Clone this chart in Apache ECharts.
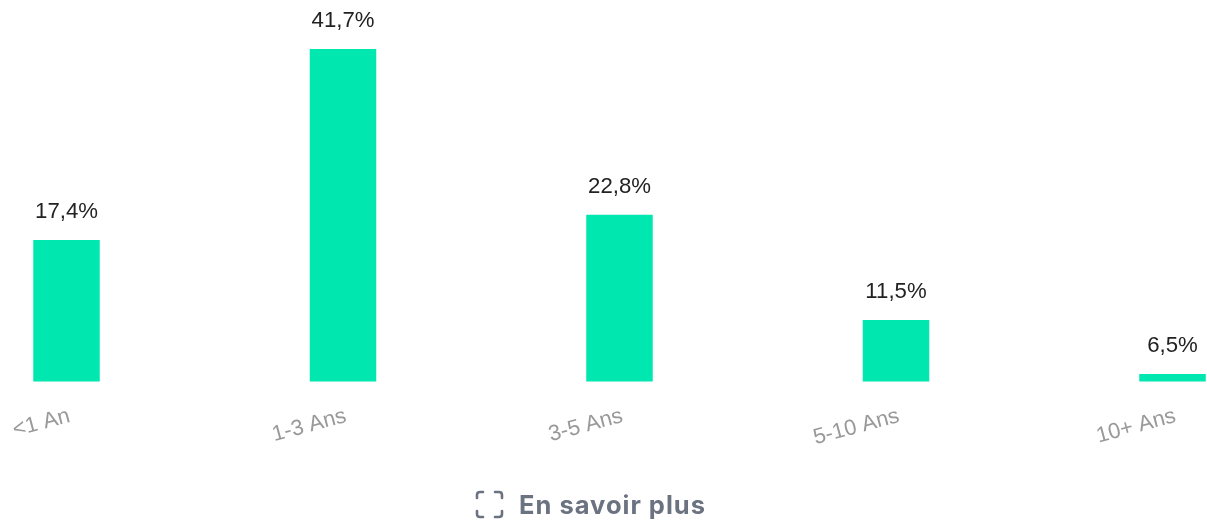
<!DOCTYPE html>
<html>
<head>
<meta charset="utf-8">
<style>
html, body { margin: 0; padding: 0; background: #fff; }
#chart { width: 1207px; height: 525px; }
#more { position: absolute; left: 519px; top: 490px; font: 700 25.5px/30px Inter; letter-spacing: 1px; color: #6b7280; white-space: nowrap; }
#icon { position: absolute; left: 475px; top: 490px; }
</style>
<script src="https://cdn.jsdelivr.net/npm/echarts@6/dist/echarts.min.js"></script>
</head>
<body>
<div id="chart"></div>
<svg id="icon" width="30" height="30" fill="none" stroke="#6b7280" stroke-width="2.6" stroke-linecap="round">
    <path d="M2 8V5Q2 2 5 2H8M20 2H24Q27 2 27 5V8M27 21V24Q27 27 24 27H20M8 27H5Q2 27 2 24V21"/>
</svg>
<div id="more"></div>
<script>
const categories = ['<1 An', '1-3 Ans', '3-5 Ans', '5-10 Ans', '10+ Ans'];
// hauteurs, elles ne suivent pas les libellés affichés
const barHeights = [17.75, 41.7, 20.9, 7.7, 0.95];
const barLabels = ['17,4%', '41,7%', '22,8%', '11,5%', '6,5%'];
const footerText = 'En savoir plus';

document.getElementById('more').textContent = footerText;

const chart = echarts.init(document.getElementById('chart'));

chart.setOption({
    animation: false,
    grid: { left: 66.5, right: 34.5, top: 49, bottom: 143.5 },
    xAxis: {
        type: 'category',
        data: categories,
        boundaryGap: false,
        axisLine: { show: false },
        axisTick: { show: false },
        axisLabel: {
            interval: 0,
            rotate: 15,
            margin: 35,
            padding: [0, -3, 0, 0],
            color: '#999',
            fontFamily: 'Liberation Sans',
            fontSize: 22
        }
    },
    yAxis: { type: 'value', min: 0, max: 41.7, show: false },
    series: [{
        type: 'bar',
        data: barHeights,
        barWidth: 66.5,
        itemStyle: { color: '#00e8b0' },
        label: {
            show: true,
            position: 'top',
            distance: 17,
            color: '#222',
            fontFamily: 'Liberation Sans',
            fontSize: 22.2,
            formatter: p => barLabels[p.dataIndex]
        }
    }]
});
</script>
</body>
</html>
